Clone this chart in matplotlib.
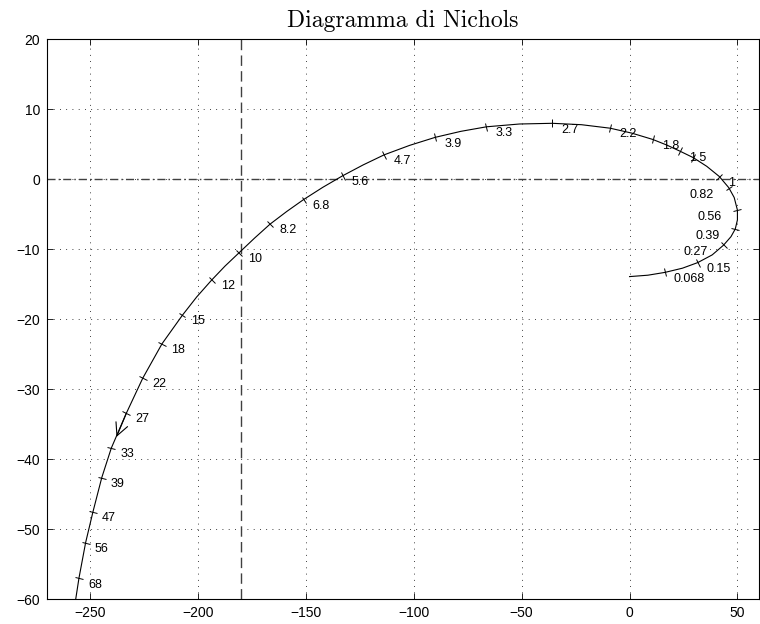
import numpy as np
import matplotlib
matplotlib.use('Agg')
import matplotlib.pyplot as plt
from matplotlib.markers import MarkerStyle
from matplotlib.transforms import Affine2D

# ---------------- data ----------------
title_text = 'Diagramma di Nichols'

# Nichols curve: phase [deg] and gain [dB], increasing frequency
curve_phase = [0.0, 8.5, 16.4, 24.5, 31.6, 38.3, 43.6, 47.0, 49.0, 50.0, 50.0,
               48.5, 46.0, 41.6, 35.8, 29.5, 23.5, 17.2, 10.7, 1.0, -9.0,
               -22.3, -35.8, -51.0, -66.3, -78.2, -90.0, -101.9, -113.7,
               -123.5, -133.0, -142.2, -151.1, -158.9, -166.6, -173.8,
               -181.0, -187.5, -193.7, -200.6, -207.2, -216.7, -225.6,
               -233.2, -240.2, -244.6, -248.7, -252.1, -255.2, -256.7]
curve_gain = [-13.9, -13.7, -13.3, -12.7, -11.9, -10.8, -9.4, -8.2, -7.1, -5.8,
              -4.4, -2.6, -1.2, 0.4, 1.85, 3.1, 4.0, 4.9, 5.7, 6.6, 7.3,
              7.8, 8.0, 7.9, 7.5, 6.85, 6.0, 4.85, 3.5, 2.05, 0.5, -1.15,
              -2.9, -4.6, -6.4, -8.4, -10.5, -12.4, -14.4, -16.8, -19.4,
              -23.5, -28.4, -33.4, -38.4, -42.6, -47.5, -51.9, -57.0, -60.0]

# frequency marks on the curve (rad/s)
freq_labels = ['0.068', '0.15', '0.27', '0.39', '0.56', '0.82', '1', '1.2',
               '1.5', '1.8', '2.2', '2.7', '3.3', '3.9', '4.7', '5.6', '6.8',
               '8.2', '10', '12', '15', '18', '22', '27', '33', '39', '47',
               '56', '68']
tick_phase = [16.4, 31.6, 43.6, 49.0, 50.0, 46.0, 41.6, 29.5, 23.5, 10.7,
              -9.0, -35.8, -66.3, -90.0, -113.7, -133.0, -151.1, -166.6,
              -181.0, -193.7, -207.2, -216.7, -225.6, -233.2, -240.2, -244.6,
              -248.7, -252.1, -255.2]
tick_gain = [-13.3, -11.9, -9.4, -7.1, -4.4, -1.2, 0.4, 3.1, 4.0, 5.7, 7.3,
             8.0, 7.5, 6.0, 3.5, 0.5, -2.9, -6.4, -10.5, -14.4, -19.4, -23.5,
             -28.4, -33.4, -38.4, -42.6, -47.5, -51.9, -57.0]
unlabeled_marks = ['1.2']
labels_on_left = ['0.82', '0.56', '0.39', '0.27']

# direction arrow on the curve
arrow_phase = -237.8
arrow_gain = -36.8
arrow_from_label = '27'

critical_phase = -180
x_ticks = [-250, -200, -150, -100, -50, 0, 50]
y_ticks = [-60, -50, -40, -30, -20, -10, 0, 10, 20]
x_range = (-270, 60)
y_range = (-60, 20)

# ---------------- figure ----------------
plt.rcParams['font.family'] = ['Liberation Sans', 'DejaVu Sans']
fig = plt.figure(figsize=(7.6, 6.24), dpi=100)
ax = fig.add_axes([47 / 760, 24.7 / 624, 712 / 760, 560 / 624])
ax.set_xlim(*x_range)
ax.set_ylim(*y_range)
ax.set_xticks(x_ticks)
ax.set_yticks(y_ticks)
ax.tick_params(direction='in', top=True, right=True, length=4, width=0.6,
               labelsize=10, pad=5)
for sp in ax.spines.values():
    sp.set_linewidth(0.8)
ax.grid(True, color='k', linestyle=(0, (1, 6.5)), linewidth=0.6)
ax.set_axisbelow(True)

ax.axvline(critical_phase, color='#404040', linestyle=(0, (7.5, 3.8)), linewidth=1.0)
ax.axhline(0, color='#404040', linestyle=(0, (5.8, 2.2, 1.1, 2.2)), linewidth=1.0)

ax.plot(curve_phase, curve_gain, color='k', linewidth=0.8)

# frequency marks perpendicular to the curve
cp = np.array(curve_phase)
cg = np.array(curve_gain)
disp = ax.transData.transform(np.column_stack([cp, cg]))
for lab, x, y in zip(freq_labels, tick_phase, tick_gain):
    i = int(np.argmin((cp - x) ** 2 + (cg - y) ** 2))
    i0 = max(i - 1, 0)
    i1 = min(i + 1, len(cp) - 1)
    d = disp[i1] - disp[i0]
    ang = np.degrees(np.arctan2(d[1], d[0]))
    m = MarkerStyle('|', transform=Affine2D().rotate_deg(ang))
    ax.plot([x], [y], marker=m, markersize=6, markeredgewidth=0.7,
            color='k', linestyle='none')
    if lab in unlabeled_marks:
        continue
    if lab in labels_on_left:
        ax.annotate(lab, (x, y), xytext=(-11, -5), textcoords='offset points',
                    ha='right', va='center', fontsize=9)
    else:
        ax.annotate(lab, (x, y), xytext=(6.5, -4.5), textcoords='offset points',
                    ha='left', va='center', fontsize=9)

j = freq_labels.index(arrow_from_label)
ax.annotate('', xy=(arrow_phase, arrow_gain), xytext=(tick_phase[j], tick_gain[j]),
            arrowprops=dict(arrowstyle='->,head_length=0.9,head_width=0.45',
                            color='k', lw=0.8, shrinkA=0, shrinkB=0,
                            mutation_scale=10))

ax.set_title(title_text, fontfamily='cmr10', fontsize=17, pad=9)

fig.savefig('out.png', dpi=100)
